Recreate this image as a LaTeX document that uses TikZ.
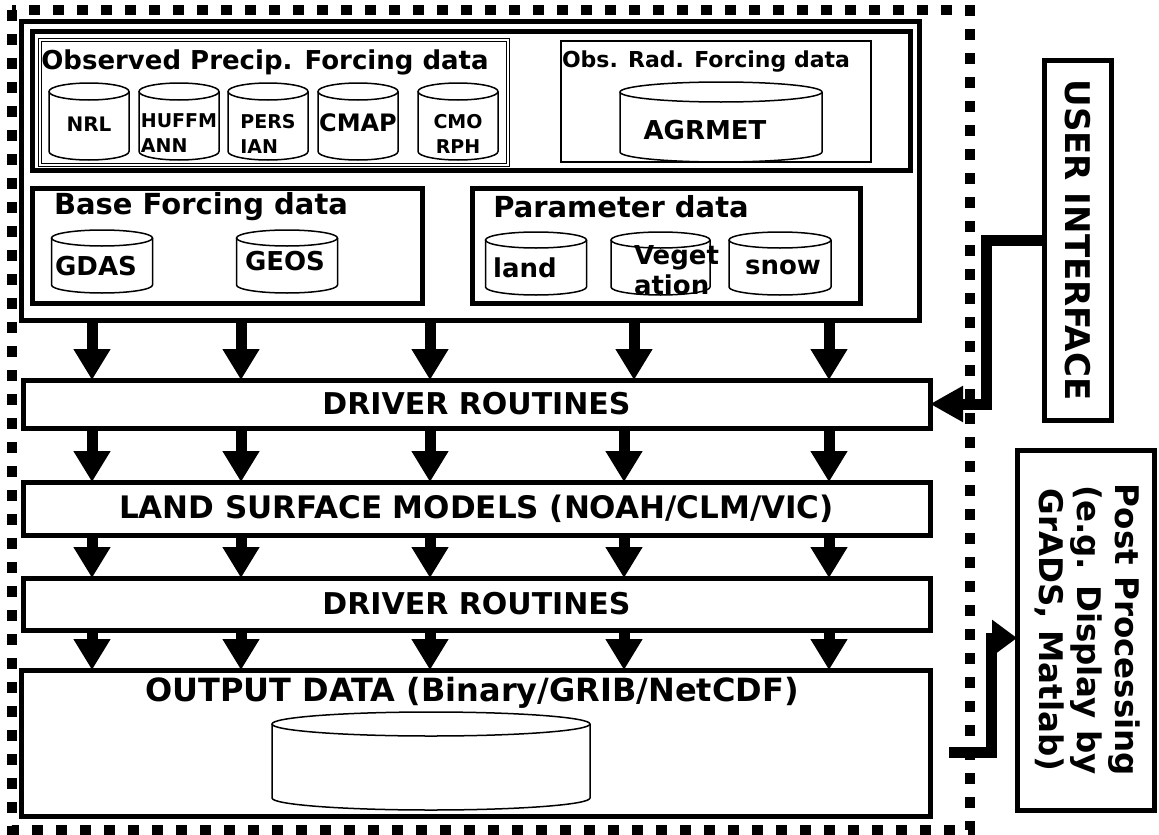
\documentclass[tikz,border=0pt]{standalone}
\usepackage{fontspec}
\setmainfont{DejaVu Sans}
\usetikzlibrary{arrows.meta,positioning,calc,shapes.geometric}

% one data store: [label style] name, centre, width, height, cap radius, label
\newcommand{\DataCyl}[7][]{%
  \node[cylnode, minimum width=#4, minimum height=#5, label={[cyltext,#1]center:#7}] (#2) at #3 {};
  \draw[cylline] ($(#2.north west)+(0,-#6)$) -- ($(#2.south west)+(0,#6)$)
    arc[start angle=180, end angle=360, x radius=#4/2, y radius=#6]
    -- ($(#2.north east)+(0,-#6)$);
  \draw[cylline] ($(#2.north)+(0,-#6)$) ellipse[x radius=#4/2, y radius=#6];
}

\tikzset{
  heavybox/.style={draw, line width=5pt, outer sep=0pt, inner sep=0pt},
  thinbox/.style={draw, line width=1.5pt, outer sep=0pt, inner sep=0pt},
  cylnode/.style={inner sep=0pt, outer sep=0pt},
  cylline/.style={line width=1.5pt},
  cyltext/.style={align=left, font=\fontsize{26}{30}\selectfont\bfseries},
  smalltxt/.style={font=\fontsize{19}{25}\selectfont\bfseries},
  dotframe/.style={line width=10pt, dash pattern=on 11pt off 13pt},
  flowarrow/.style={line width=11pt, -{Triangle[length=31pt,width=35pt]}},
  linkarrow/.style={line width=11pt, line join=miter, -{Triangle[length=33pt,width=34pt]}},
  grptitle/.style={font=\fontsize{29}{32}\selectfont\bfseries},
  stagetxt/.style={font=\fontsize{30}{34}\selectfont\bfseries}
}

\begin{document}
\begin{tikzpicture}[x=1pt,y=-1pt]
  \useasboundingbox (0,0) rectangle (1159,835);

  % dotted frame round the whole system
  \draw[dotframe] (12,10) rectangle (970,830);

  % input data
  \path (470,170.5) node[heavybox, minimum width=898pt, minimum height=299pt] (input) {};
  \path (471,100.5) node[heavybox, minimum width=878pt, minimum height=139pt] (obsgrp) {};
  \path (274,102.5) node[thinbox, double, double distance=2pt, line width=1.2pt, minimum width=468pt, minimum height=125pt] (precip) {};
  \path (716,101.5) node[thinbox, minimum width=310pt, minimum height=121pt] (radgrp) {};
  \path (227,245.5) node[heavybox, minimum width=390pt, minimum height=115pt] (base) {};
  \path (666,245.5) node[heavybox, minimum width=388pt, minimum height=115pt] (param) {};

  \node[grptitle, font=\fontsize{26}{30}\selectfont\bfseries] (precipttl) at (265,62) {Observed Precip. Forcing data};
  \node[grptitle, font=\fontsize{22}{26}\selectfont\bfseries] (radttl) at (706,62) {Obs. Rad. Forcing data};
  \node[grptitle] (basettl) at (201,207) {Base Forcing data};
  \node[grptitle] (paramttl) at (621,207) {Parameter data};

  \DataCyl[smalltxt, font=\fontsize{20}{25}\selectfont\bfseries, yshift=-3pt]{nrl}{(89,121.5)}{80pt}{77pt}{8.5pt}{NRL}
  \DataCyl[smalltxt, yshift=-12pt]{huff}{(179,121.5)}{80pt}{77pt}{8.5pt}{HUFFM\\ANN}
  \DataCyl[smalltxt, yshift=-12pt]{pers}{(268,121.5)}{80pt}{77pt}{8.5pt}{PERS\\IAN}
  \DataCyl[font=\fontsize{24}{28}\selectfont\bfseries, yshift=-1pt]{cmap}{(358,121.5)}{80pt}{77pt}{8.5pt}{CMAP}
  \DataCyl[smalltxt, align=center, yshift=-12pt]{cmorph}{(458,121.5)}{80pt}{77pt}{8.5pt}{CMO\\RPH}
  \DataCyl[yshift=-8pt, xshift=-16pt]{agrmet}{(721,122)}{202pt}{80pt}{10pt}{AGRMET}

  \DataCyl[yshift=-5pt, xshift=-6pt]{gdas}{(102,261.5)}{101pt}{63pt}{8pt}{GDAS}
  \DataCyl[xshift=-2pt]{geos}{(287,261.5)}{101pt}{63pt}{8pt}{GEOS}
  \DataCyl[yshift=-4pt, xshift=-11pt]{land}{(536,263.5)}{101pt}{63pt}{8pt}{land}
  \DataCyl[yshift=-7pt, xshift=16pt]{veg}{(660.5,263.5)}{99pt}{63pt}{8pt}{Veget\\ation}
  \DataCyl[yshift=-4pt, xshift=3pt]{snow}{(780,263.5)}{102pt}{63pt}{8pt}{snow}

  % processing stages
  \path (476.5,404) node[heavybox, stagetxt, minimum width=907pt, minimum height=48pt] (drv1) {DRIVER ROUTINES};
  \path (476.5,508.5) node[heavybox, stagetxt, font=\fontsize{31}{34}\selectfont\bfseries, minimum width=907pt, minimum height=53pt] (lsm) {LAND SURFACE MODELS (NOAH/CLM/VIC)};
  \path (476.5,604) node[heavybox, stagetxt, minimum width=907pt, minimum height=52pt] (drv2) {DRIVER ROUTINES};
  \path (475.5,743) node[heavybox, minimum width=909pt, minimum height=146pt] (output) {};
  \node[stagetxt, font=\fontsize{32}{36}\selectfont\bfseries] (outttl) at (472,693) {OUTPUT DATA (Binary/GRIB/NetCDF)};
  \DataCyl{outstore}{(431,761)}{318pt}{98pt}{12pt}{}

  % side boxes
  \path (1077.5,240) node[heavybox, minimum width=67pt, minimum height=360pt, font=\fontsize{34}{38}\selectfont\bfseries] (ui) {\rotatebox{-90}{USER INTERFACE}};
  \path (1085.5,630) node[heavybox, minimum width=137pt, minimum height=360pt, font=\fontsize{32.5}{38}\selectfont\bfseries] (post) {\rotatebox{-90}{\begin{tabular}{@{}c@{}}Post Processing\\(e.g. Display by\\GrADS, Matlab)\end{tabular}}};

  % data flow between stages
  \foreach \cx in {92,241,430,634,829} {
    \coordinate (hc) at (\cx,0);
    \draw[flowarrow] (hc |- input.south) -- (hc |- drv1.north);
  }
  \foreach \cx in {92,241,430,624,829} {
    \coordinate (lc) at (\cx,0);
    \draw[flowarrow] (lc |- drv1.south) -- (lc |- lsm.north);
    \draw[flowarrow] (lc |- lsm.south) -- (lc |- drv2.north);
    \draw[flowarrow] (lc |- drv2.south) -- (lc |- output.north);
  }

  % links to the side boxes
  \coordinate (uibend) at (986,300);
  \draw[linkarrow] (ui.west) -| (uibend) |- (drv1.east);
  \coordinate (outfeed) at (949,752);
  \coordinate (postbend) at (991,700);
  \coordinate (postin) at (1017,638);
  \draw[linkarrow, -{Triangle[length=25pt,width=35pt]}] (outfeed) -| (postbend) |- (postin);
\end{tikzpicture}
\end{document}
